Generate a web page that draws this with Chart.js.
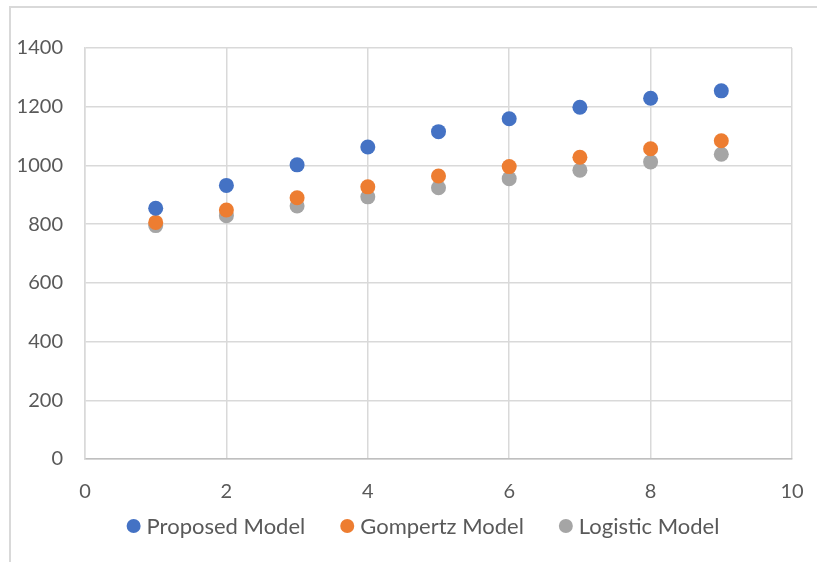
<!DOCTYPE html>
<html>
<head>
<meta charset="utf-8">
<script src="https://cdn.jsdelivr.net/npm/chart.js@4/dist/chart.umd.min.js"></script>
<style>
  html, body { margin: 0; padding: 0; background: #fff; }
  #wrap { position: relative; width: 817px; height: 562px; }
</style>
</head>
<body>
<div id="wrap"><canvas id="chart"></canvas></div>
<script>
// model predictions per step
const steps = [1, 2, 3, 4, 5, 6, 7, 8, 9];
const proposed = [854, 932, 1002, 1063, 1115, 1159, 1198, 1229, 1254];
const gompertz = [806, 848, 890, 927, 964, 996, 1028, 1057, 1084];
const logistic = [795, 829, 862, 893, 924, 955, 984, 1012, 1038];

const seriesNames = ['Proposed Model', 'Gompertz Model', 'Logistic Model'];
const seriesColors = ['#4472c4', '#ed7d31', '#a5a5a5'];

const toPoints = vals => steps.map((x, i) => ({ x: x, y: vals[i] }));

// light outer frame around the chart
const frame = {
    id: 'frame',
    beforeDraw(chart) {
        const ctx = chart.ctx;
        ctx.save();
        ctx.strokeStyle = '#d9d9d9';
        ctx.lineWidth = 2;
        ctx.beginPath();
        ctx.moveTo(10, 600);
        ctx.lineTo(10, 7);
        ctx.lineTo(900, 7);
        ctx.stroke();
        ctx.restore();
    }
};

// legend row under the axis: dot, name, wide gap, next dot...
const bottomLegend = {
    id: 'bottomLegend',
    afterDraw(chart, args, opts) {
        const ctx = chart.ctx;
        const r = opts.radius, gapText = opts.gapText, gapItem = opts.gapItem;
        ctx.save();
        ctx.font = opts.size + 'px ' + Chart.defaults.font.family;
        const items = chart.data.datasets.map(ds => ({
            text: ds.label,
            color: ds.backgroundColor,
            w: ctx.measureText(ds.label).width
        }));
        const total = items.reduce((s, it) => s + 2 * r + gapText + it.w, 0) + gapItem * (items.length - 1);
        let x = opts.centerX - total / 2;
        const y = opts.y;
        ctx.textBaseline = 'middle';
        ctx.textAlign = 'left';
        items.forEach(it => {
            ctx.fillStyle = it.color;
            ctx.beginPath();
            ctx.arc(x + r, y, r, 0, Math.PI * 2);
            ctx.fill();
            x += 2 * r + gapText;
            ctx.fillStyle = '#595959';
            ctx.fillText(it.text, x, y + 1);
            x += it.w + gapItem;
        });
        ctx.restore();
    }
};

Chart.defaults.font.family = 'Lato, "Open Sans", sans-serif';
Chart.defaults.color = '#595959';

new Chart(document.getElementById('chart').getContext('2d'), {
    type: 'scatter',
    data: {
        datasets: [proposed, gompertz, logistic].map((vals, i) => ({
            label: seriesNames[i],
            data: toPoints(vals),
            backgroundColor: seriesColors[i],
            borderWidth: 0,
            pointRadius: 7.5,
            pointHoverRadius: 7.5
        }))
    },
    options: {
        responsive: true,
        maintainAspectRatio: false,
        animation: false,
        layout: { padding: { top: 48, right: 25, left: 0, bottom: 55 } },
        scales: {
            x: {
                min: 0,
                max: 10,
                ticks: { stepSize: 2, padding: 21, font: { size: 20 } },
                grid: { color: '#d9d9d9', lineWidth: 1.5, drawTicks: false },
                border: { color: '#bfbfbf', width: 1.5 },
                afterFit(scale) {
                    scale.height = 48;
                    scale.paddingLeft = 0;
                    scale.paddingRight = 0;
                }
            },
            y: {
                min: 0,
                max: 1400,
                ticks: {
                    stepSize: 200,
                    padding: 22,
                    font: { size: 20 },
                    callback: v => String(v)
                },
                grid: { color: '#d9d9d9', lineWidth: 1.5, drawTicks: false },
                border: { color: '#d9d9d9', width: 1.5 },
                afterFit(scale) { scale.width = 85; }
            }
        },
        plugins: {
            legend: { display: false },
            tooltip: { enabled: false },
            bottomLegend: { centerX: 423, y: 526, radius: 7, gapText: 6, gapItem: 35, size: 22 }
        }
    },
    plugins: [frame, bottomLegend]
});
</script>
</body>
</html>
